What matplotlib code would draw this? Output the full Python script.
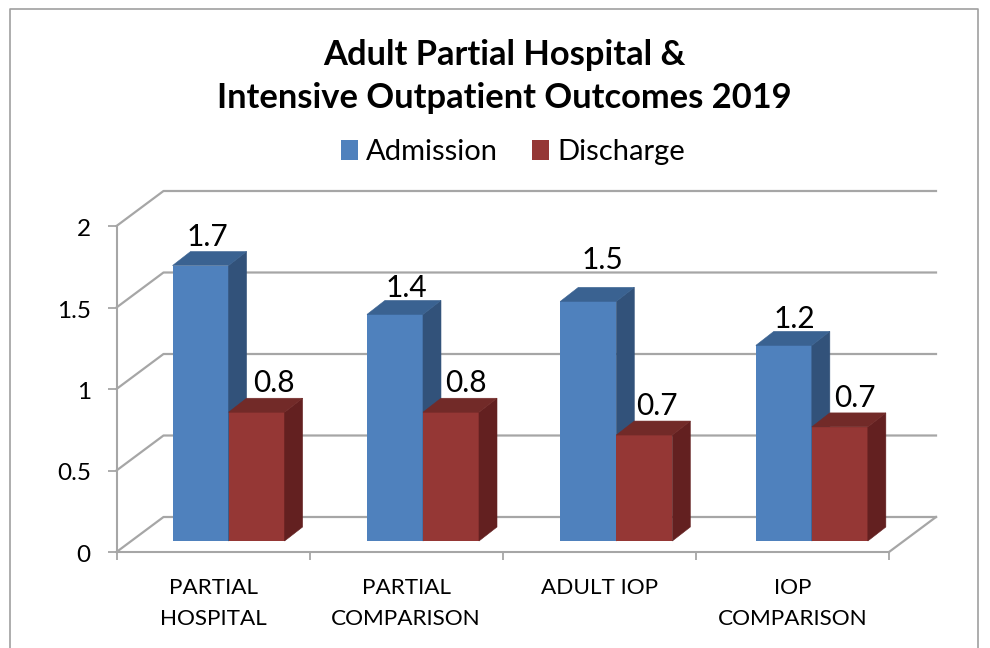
import matplotlib
matplotlib.use("Agg")
import matplotlib.pyplot as plt
from matplotlib.patches import Polygon, Rectangle
from matplotlib.transforms import Affine2D, IdentityTransform

categories = ["PARTIAL\nHOSPITAL", "PARTIAL\nCOMPARISON", "ADULT IOP", "IOP\nCOMPARISON"]
admission = [1.69, 1.39, 1.47, 1.2]
discharge = [0.79, 0.79, 0.65, 0.7]
y_ticks = [0, 0.5, 1, 1.5, 2]
y_labels = ["0", "0.5", "1", "1.5", "2"]

# label nudges in pixels, relative to the middle of the bar top
adm_nudge = [(7, 29), (11, 26), (14, 41), (11, 26)]
dis_nudge = [(17, 29), (15, 29), (13, 29), (15, 29)]
# small horizontal drift of each bar group against the ticks, in pixels
group_shift = [15.5, 16.8, 17, 19.4]

W, H = 990, 648
FONT = "Lato"
GRID = "#a6a6a6"
BLUE, BLUE_SIDE, BLUE_TOP = "#4f81bd", "#32527a", "#3a6291"
RED, RED_SIDE, RED_TOP = "#953735", "#632020", "#722a28"

plt.rcParams["font.family"] = FONT

fig = plt.figure(figsize=(W / 100, H / 100), dpi=100)
fig.patch.set_facecolor("white")
ax = fig.add_axes([116.5 / W, (H - 552) / H, (889 - 116.5) / W, 326 / H])
ax.set_xlim(0, 4)
ax.set_ylim(0, 2)
ax.autoscale(False)
ax.patch.set_alpha(0)

for s in ["top", "right"]:
    ax.spines[s].set_visible(False)
for s in ["left", "bottom"]:
    ax.spines[s].set_color(GRID)
    ax.spines[s].set_linewidth(1.5)

ax.set_yticks(y_ticks)
ax.set_yticklabels(y_labels, fontsize=17.5)
ax.tick_params(axis="y", length=6.5, width=1.3, color=GRID, pad=12)
for lab in ax.get_yticklabels():
    lab.set_transform(lab.get_transform() + Affine2D().translate(0, -1.5))
ax.set_xticks(range(5))
ax.set_xticklabels([])
ax.tick_params(axis="x", which="major", length=6, width=1.3, color=GRID)
ax.set_xticks([i + 0.5 for i in range(4)], minor=True)
ax.set_xticklabels(categories, minor=True, fontsize=16.2, linespacing=1.68)
ax.tick_params(axis="x", which="minor", length=0, pad=19)

# walls and floor, drawn in pixels off the data positions
wall_dx, wall_dy = 47, 35
for t in y_ticks:
    x0, y0 = ax.transData.transform((0, t))
    x1, y1 = ax.transData.transform((4, t))
    ax.plot([x0, x0 + wall_dx, x1 + wall_dx], [y0, y0 + wall_dy, y1 + wall_dy],
            color=GRID, lw=1.6, transform=IdentityTransform(), clip_on=False, zorder=1)
x1, y1 = ax.transData.transform((4, 0))
ax.plot([x1, x1 + wall_dx], [y1, y1 + wall_dy], color=GRID, lw=1.6,
        transform=IdentityTransform(), clip_on=False, zorder=1)

# bars
bar_w = 0.29
depth_x, depth_y = 18, 14


def draw_box(x, val, front, side, top, z, trans):
    ax.bar(x, val, width=bar_w, align="edge", color=front, transform=trans,
           clip_on=False, zorder=z)
    (xa, ya) = trans.transform((x, 0))
    (xb, yb) = trans.transform((x + bar_w, val))
    side_pts = [(xb, ya), (xb + depth_x, ya + depth_y), (xb + depth_x, yb + depth_y), (xb, yb)]
    top_pts = [(xa, yb), (xa + depth_x, yb + depth_y), (xb + depth_x, yb + depth_y), (xb, yb)]
    ax.add_patch(Polygon(side_pts, closed=True, fc=side, ec=side, lw=0.4,
                         transform=IdentityTransform(), clip_on=False, zorder=z))
    ax.add_patch(Polygon(top_pts, closed=True, fc=top, ec=top, lw=0.4,
                         transform=IdentityTransform(), clip_on=False, zorder=z))


for i in range(4):
    x_adm = i + 0.5 - bar_w
    x_dis = i + 0.5
    bar_trans = ax.transData + Affine2D().translate(group_shift[i], 11)
    draw_box(x_adm, admission[i], BLUE, BLUE_SIDE, BLUE_TOP, 3 + i * 2, bar_trans)
    draw_box(x_dis, discharge[i], RED, RED_SIDE, RED_TOP, 4 + i * 2, bar_trans)
    ax.annotate("%.1f" % admission[i], xy=(x_adm + bar_w / 2, admission[i]), xycoords=bar_trans,
                xytext=adm_nudge[i], textcoords="offset pixels", ha="center", va="center",
                fontsize=21.5, zorder=20, annotation_clip=False)
    ax.annotate("%.1f" % discharge[i], xy=(x_dis + bar_w / 2, discharge[i]), xycoords=bar_trans,
                xytext=dis_nudge[i], textcoords="offset pixels", ha="center", va="center",
                fontsize=21.5, zorder=20, annotation_clip=False)

# title
fig.text(504 / W, 1 - 76.5 / H, "Adult Partial Hospital &\nIntensive Outpatient Outcomes 2019",
         ha="center", va="center", fontsize=24.8, fontweight="bold", linespacing=1.45)

# legend
handles = [Rectangle((0, 0), 1, 1, fc=BLUE), Rectangle((0, 0), 1, 1, fc=RED)]
fig.legend(handles, ["Admission", "Discharge"], ncol=2, frameon=False, fontsize=21,
           loc="center", bbox_to_anchor=(513 / W, 1 - 152 / H), handlelength=0.58,
           handleheight=0.7, handletextpad=0.3, columnspacing=1.15, borderpad=0)

# chart frame
frame = [(9.5, 648), (9.5, 8.5), (977.5, 8.5), (977.5, 648)]
fig.add_artist(plt.Line2D([p[0] / W for p in frame], [1 - p[1] / H for p in frame],
                          color="#a0a0a0", lw=1.2, transform=fig.transFigure))

fig.savefig("out.png", dpi=100)
